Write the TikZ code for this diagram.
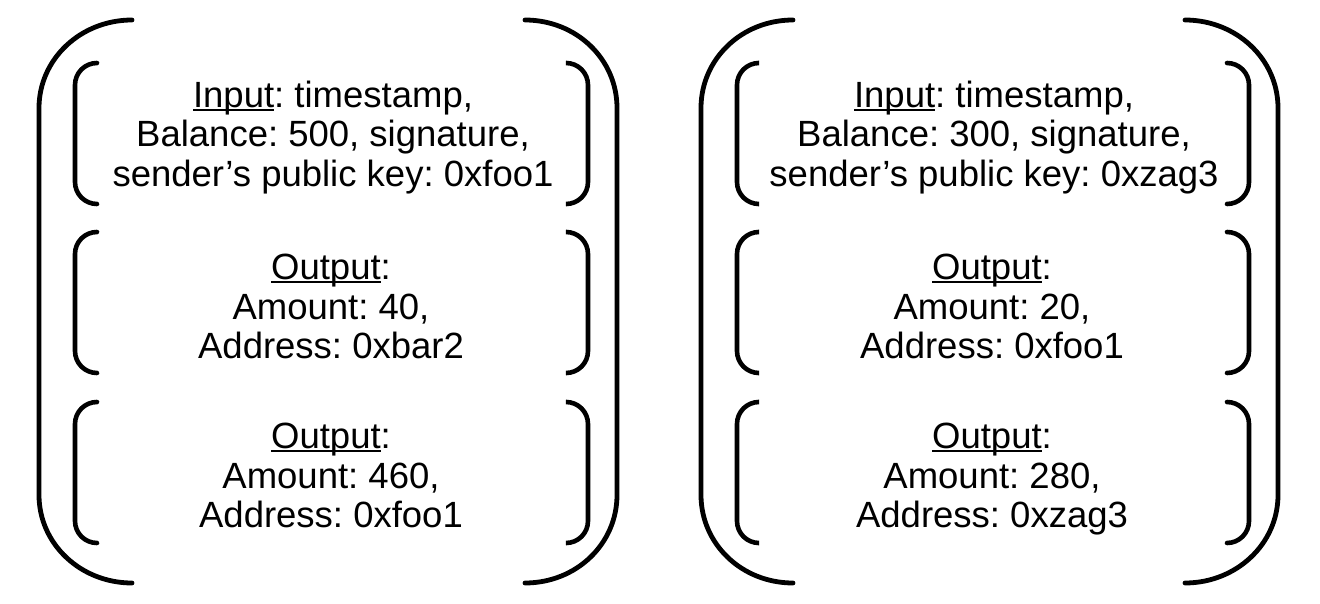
\documentclass[tikz,border=0pt]{standalone}
\usepackage{fontspec}
\setmainfont{Liberation Sans}
\frenchspacing
\newcommand\myul[1]{\setbox0\hbox{#1}\rlap{\rule[-3.5pt]{\wd0}{2.2pt}}\box0}
\begin{document}
\begin{tikzpicture}[x=1pt,y=-1pt,
  brk/.style={line width=4.8pt,line cap=round},
  inbrk/.style={line width=4.6pt,line cap=round,rounded corners=22pt},
  txt/.style={align=center,font=\fontsize{36.5}{39.5}\selectfont,inner sep=0pt,text depth=9pt}]
\useasboundingbox (0,0) rectangle (1320,604);
% left panel outer brackets
\draw[brk] (132,20) .. controls (80.7,20) and (39,59) .. (39,108) -- (39,495) .. controls (39,544) and (80.7,583) .. (132,583);
\draw[brk] (525,20) .. controls (576.3,20) and (617,59) .. (617,108) -- (617,495) .. controls (617,544) and (576.3,583) .. (525,583);
% right panel outer brackets
\draw[brk] (793,20) .. controls (741.7,20) and (701,59) .. (701,108) -- (701,495) .. controls (701,544) and (741.7,583) .. (793,583);
\draw[brk] (1185,20) .. controls (1236.3,20) and (1278,59) .. (1278,108) -- (1278,495) .. controls (1278,544) and (1236.3,583) .. (1185,583);
% inner brackets
\foreach \t/\b in {63/204,232/373,402/543}{
  \draw[inbrk] (97,\t) -- (75,\t) -- (75,\b) -- (97,\b);
  \draw[inbrk] (567,\t) -- (588,\t) -- (588,\b) -- (567,\b);
  \draw[inbrk] (758,\t) -- (737,\t) -- (737,\b) -- (758,\b);
  \draw[inbrk] (1227,\t) -- (1249,\t) -- (1249,\b) -- (1227,\b);
}
% texts
\node[txt] (in1) at (333,138) {\myul{Input}: timestamp,\\Balance: 500, signature,\\sender’s public key: 0xfoo1};
\node[txt] (o1a) at (331,311) {\myul{Output}:\\Amount: 40,\\Address: 0xbar2};
\node[txt] (o1b) at (331,480) {\myul{Output}:\\Amount: 460,\\Address: 0xfoo1};
\node[txt] (in2) at (994,138) {\myul{Input}: timestamp,\\Balance: 300, signature,\\sender’s public key: 0xzag3};
\node[txt] (o2a) at (992,311) {\myul{Output}:\\Amount: 20,\\Address: 0xfoo1};
\node[txt] (o2b) at (992,480) {\myul{Output}:\\Amount: 280,\\Address: 0xzag3};
\end{tikzpicture}
\end{document}
